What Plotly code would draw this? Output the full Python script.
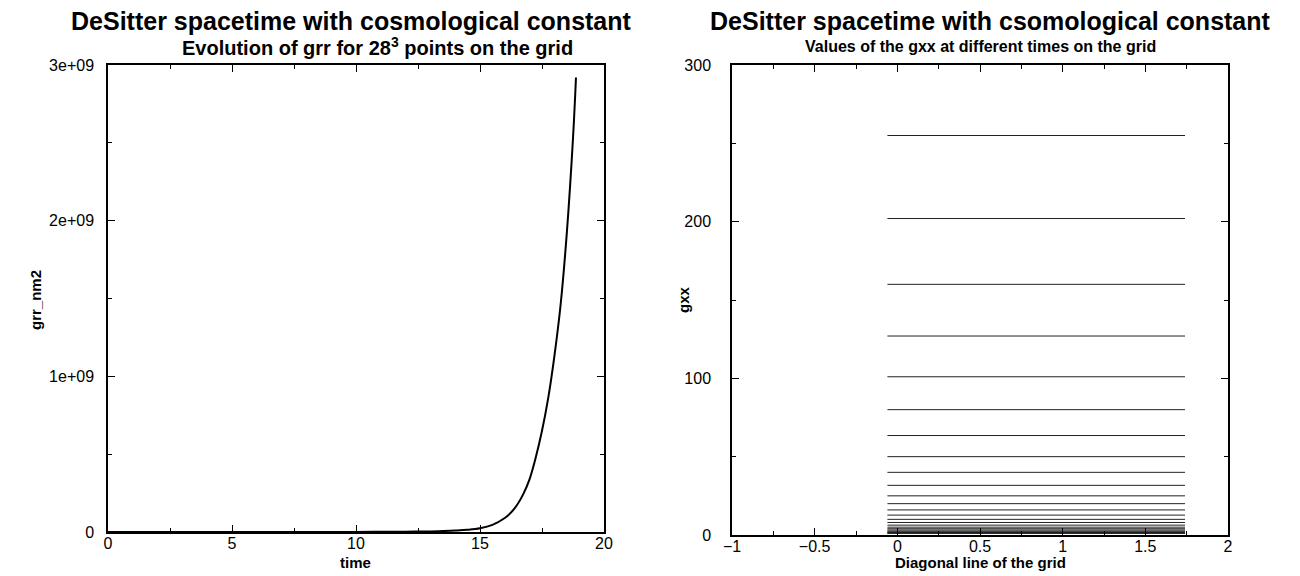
import plotly.graph_objects as go

# left panel: grr_nm2 against time
time = [0, 2, 4, 6, 8, 10, 11, 12, 13, 13.5, 14, 14.5, 15, 15.5, 16, 16.25,
        16.5, 16.75, 17, 17.25, 17.5, 17.75, 18, 18.25, 18.5, 18.75, 18.87]
grr_nm2 = [0, 0, 0, 0, 0.0001e9, 0.0005e9, 0.001e9, 0.002e9, 0.004e9, 0.006e9,
           0.009e9, 0.014e9, 0.024e9, 0.046e9, 0.09e9, 0.125e9, 0.175e9,
           0.245e9, 0.34e9, 0.48e9, 0.65e9, 0.86e9, 1.13e9, 1.46e9, 1.92e9,
           2.53e9, 2.92e9]

# right panel: gxx along the grid diagonal, one flat line per output time
diag_start = -0.06
diag_end = 1.74
gxx_levels = [255, 202, 160, 127, 101, 80, 63.5, 50, 40, 31.7, 25, 20, 16,
              12.7, 10, 8, 6.3, 5, 4, 3.2, 2.5, 2, 1.6, 1.3, 1]

FONT = "Liberation Sans, Arial, sans-serif"

# the page body adds an 8px offset, so size the figure to fit the window
W, H, OFF = 1292, 568, 8


def px(x):
    return (x - OFF) / W


def py(y):
    return 1 - (y - OFF) / H


fig = go.Figure()

fig.add_trace(go.Scatter(
    x=time, y=grr_nm2, mode='lines', line_shape='spline',
    line=dict(color='black', width=2, smoothing=1.0),
    xaxis='x', yaxis='y', showlegend=False
))

for g in gxx_levels:
    fig.add_trace(go.Scatter(
        x=[diag_start, diag_end], y=[g, g], mode='lines',
        line=dict(color='#222222', width=1), xaxis='x2', yaxis='y2',
        showlegend=False
    ))

axis_style = dict(
    showline=True, linecolor='black', linewidth=1.5, mirror='ticks',
    ticks='inside', ticklen=7, tickcolor='black', tickwidth=1,
    showgrid=False, zeroline=False, automargin=False,
    tickfont=dict(family=FONT, size=16, color='black'),
)


def label(text, x, y, size, angle=0):
    return dict(text=text, x=px(x), y=py(y), xref='paper', yref='paper',
                showarrow=False, xanchor='center', yanchor='middle',
                textangle=angle, font=dict(family=FONT, size=size, color='black'))


fig.update_layout(
    width=W, height=H,
    margin=dict(l=0, r=0, t=0, b=0),
    plot_bgcolor='white', paper_bgcolor='white',
    font=dict(family=FONT, color='black'),
    xaxis=dict(domain=[px(108), px(604)], range=[0, 20], tickvals=[0, 5, 10, 15, 20],
               minor=dict(ticks='inside', dtick=2.5, ticklen=4, tickcolor='black'),
               ticklabelstandoff=-4, anchor='y', **axis_style),
    yaxis=dict(domain=[py(532), py(65)], range=[0, 3e9],
               tickvals=[0, 1e9, 2e9, 3e9], ticktext=['0', '1e+09', '2e+09', '3e+09'],
               minor=dict(ticks='inside', dtick=0.5e9, ticklen=4, tickcolor='black'),
               ticklabelstandoff=9, anchor='x', **axis_style),
    xaxis2=dict(domain=[px(732), px(1228)], range=[-1, 2],
                tickvals=[-1, -0.5, 0, 0.5, 1, 1.5, 2],
                minor=dict(ticks='inside', dtick=0.25, ticklen=4, tickcolor='black'),
                ticklabelstandoff=-4, anchor='y2', **axis_style),
    yaxis2=dict(domain=[py(535), py(65)], range=[0, 300],
                tickvals=[0, 100, 200, 300],
                minor=dict(ticks='inside', dtick=50, ticklen=4, tickcolor='black'),
                ticklabelstandoff=16, anchor='x2', **axis_style),
    annotations=[
        label('<b>DeSitter spacetime with cosmological constant</b>', 351, 21, 25),
        label('<b>Evolution of grr for 28<sup>3</sup> points on the grid</b>', 378, 47, 20),
        label('<b>DeSitter spacetime with csomological constant</b>', 990, 21, 25),
        label('<b>Values of the gxx at different times on the grid</b>', 980, 47, 16),
        label('<b>time</b>', 355, 562, 15),
        label('<b>Diagonal line of the grid</b>', 980, 562, 15),
        label('<b>grr_nm2</b>', 35, 300, 15, -90),
        label('<b>gxx</b>', 683, 300, 15, -90),
    ],
)

fig.write_html("out.html")
